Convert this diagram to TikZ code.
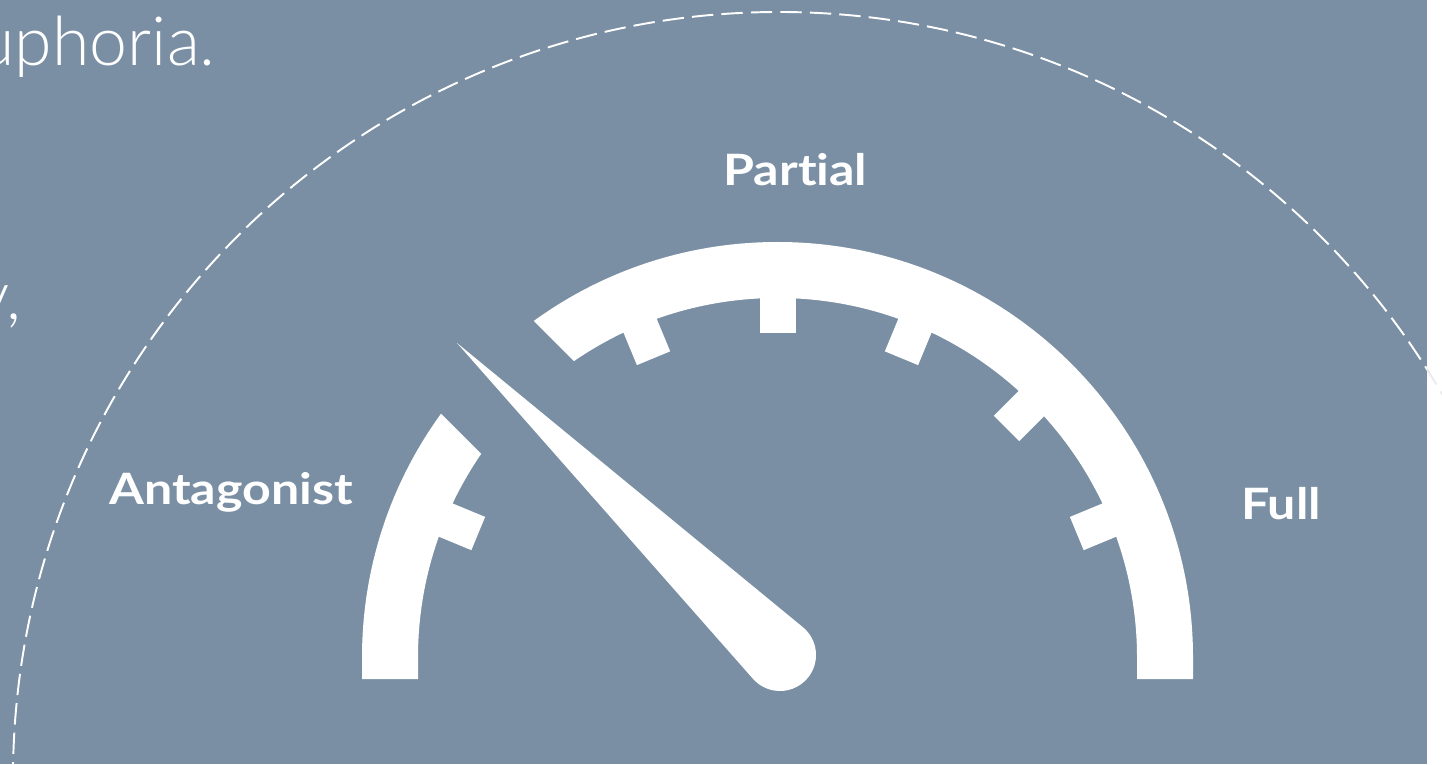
\documentclass[tikz,border=0pt]{standalone}
\usepackage{fontspec}
\usepackage{xcolor}
\usepackage{tikz}
\usetikzlibrary{calc}
\newfontfamily\labelfont{Lato}[FakeStretch=1.16, Ligatures=NoCommon]
\newfontfamily\lightfont{Lato Light}
\definecolor{slate}{RGB}{122,143,164}

\begin{document}
\begin{tikzpicture}[
    x=0.02cm, y=0.02cm,
    gaugelabel/.style={font=\labelfont\bfseries\fontsize{24.6}{30}\selectfont, text=white, inner sep=0pt, anchor=base},
    bodytext/.style={font=\lightfont\fontsize{38.7}{46}\selectfont, text=white, inner sep=0pt, anchor=base east},
    tickmark/.style={fill=white},
    ring/.style={draw=white, line width=1.1pt, dash pattern=on 12.2pt off 4.6pt}
]
    \useasboundingbox (0,0) rectangle (1442,764);
    \clip (0,0) rectangle (1442,764);

    % background
    \fill[slate] (0,0) rectangle (1427,764);
    \coordinate (C) at (777.5,106.5);

    % dashed circle
    \draw[ring] (779,-14) circle (766);
    \begin{scope}
        \clip (1427,0) rectangle (1442,764);
        \draw[ring, draw=black!8] (779,-14) circle (766);
    \end{scope}

    % text cut off at the left
    \node[bodytext] (euph) at (216,698) {euphoria.};
    \node[bodytext] (comma) at (22,444) {y,};

    % gauge band
    \fill[white] (362,85) -- (362,106.5) arc[start angle=180, end angle=0, radius=415.5]
        -- (1193,85) -- (1137,85) -- (1137,106.5)
        arc[start angle=0, end angle=180, radius=359.5] -- (418,85) -- cycle;

    % ticks
    \foreach \a in {22.5,45,67.5,90,112.5,157.5}
        \fill[tickmark, rotate around={\a:(C)}] ($(C)+(324,-18)$) rectangle ($(C)+(370,18)$);

    % gap where the needle points
    \fill[slate, rotate around={135:(C)}] ($(C)+(300,-65.4)$) rectangle ($(C)+(440,65.4)$);

    % needle
    \coordinate (hub) at (780,109);
    \coordinate (tip) at (457,421);
    \fill[white] (tip) -- ($(hub)+(50.6:36)$) arc[start angle=50.6, end angle=-138.6, radius=36] -- cycle;

    % labels
    \node[gaugelabel] (antag) at (231,259) {Antagonist};
    \node[gaugelabel] (partial) at (795.5,578) {Partial};
    \node[gaugelabel] (full) at (1281,244) {Full};
\end{tikzpicture}
\end{document}
